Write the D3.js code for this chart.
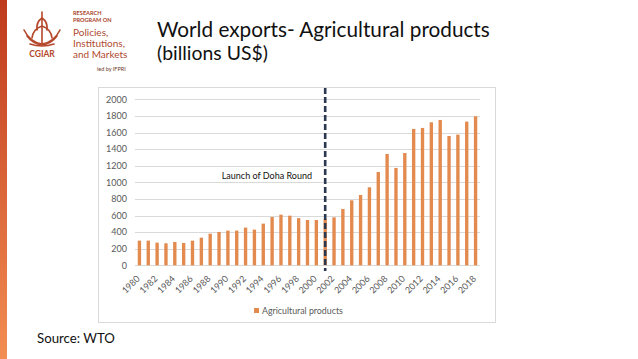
<!DOCTYPE html>
<html><head><meta charset="utf-8">
<script src="https://cdn.jsdelivr.net/npm/d3@7"></script>
<style>
html,body{margin:0;padding:0;background:#fff;}
svg text{font-family:Lato,"Open Sans",sans-serif;}
</style></head>
<body>
<svg id="c" width="638" height="359"></svg>
<script>
const years = d3.range(1980, 2019).map(String);
const agriValues = [297,297,273,265,281,269,297,333,381,402,418,418,454,430,502,582,610,598,568,546,546,555,578,679,783,847,940,1124,1341,1173,1353,1643,1655,1723,1751,1558,1574,1731,1795];
const yTicks = [0,200,400,600,800,1000,1200,1400,1600,1800,2000];
const xTickLabels = years.filter((d,i)=>i%2===0);
const seriesName = "Agricultural products";
const eventYear = "2001";
const eventLabel = "Launch of Doha Round";
const titleText = "World exports- Agricultural products";
const subtitleText = "(billions US$)";
const sourceText = "Source: WTO";

const svg = d3.select("#c");

// left gradient strip
const defs = svg.append("defs");
const g1 = defs.append("linearGradient").attr("id","strip").attr("x1",0).attr("x2",0).attr("y1",0).attr("y2",1);
g1.append("stop").attr("offset","0%").attr("stop-color","#bf3a1d");
g1.append("stop").attr("offset","100%").attr("stop-color","#f38d52");
svg.append("rect").attr("x",0).attr("y",0).attr("width",7).attr("height",359).attr("fill","url(#strip)");

// logo
const logo = svg.append("g").attr("fill","none").attr("stroke","#b4472b").attr("stroke-width",1.6).attr("stroke-linecap","round");
logo.append("path").attr("d","M42,12 L42,44");
logo.append("path").attr("d","M42,18 q-6,4 -5,12 M42,18 q6,4 5,12");
logo.append("path").attr("d","M42,26 q-9,3 -10,12 M42,26 q9,3 10,12");
logo.append("path").attr("d","M24,30 q6,12 18,14 q12,-2 18,-14");
logo.append("path").attr("d","M27,36 q6,8 15,9 q9,-1 15,-9");
logo.append("path").attr("d","M30,44 q12,4 24,0");
svg.append("text").attr("x",42).attr("y",57).attr("text-anchor","middle").attr("font-size",8.5).attr("font-weight","bold").attr("fill","#b4472b").text("CGIAR");
svg.append("text").attr("x",73).attr("y",15).attr("font-size",5.6).attr("font-weight","bold").attr("fill","#a8432a").text("RESEARCH");
svg.append("text").attr("x",73).attr("y",22).attr("font-size",5.6).attr("font-weight","bold").attr("fill","#a8432a").text("PROGRAM ON");
["Policies,","Institutions,","and Markets"].forEach((t,i)=>{
  svg.append("text").attr("x",73).attr("y",36+i*11).attr("font-size",10).attr("fill","#b04a30").text(t);
});
svg.append("text").attr("x",97).attr("y",71).attr("font-size",5.5).attr("fill","#6b3a2a").text("led by IFPRI");

// title
function fitText(sel, width){
  const w = sel.node().getComputedTextLength();
  const fs = parseFloat(sel.attr("font-size"));
  sel.attr("font-size", fs*width/w);
}
const t1 = svg.append("text").attr("x",157).attr("y",37).attr("font-size",24).attr("fill","#111").text(titleText);
fitText(t1, 333);
const t2 = svg.append("text").attr("x",157).attr("y",60).attr("font-size",17).attr("fill","#111").text(subtitleText);
fitText(t2, 111);
const t3 = svg.append("text").attr("x",37).attr("y",343).attr("font-size",14).attr("fill","#111").text(sourceText);
fitText(t3, 78);

// chart box
svg.append("rect").attr("x",98.5).attr("y",87.5).attr("width",397).attr("height",235).attr("fill","#fff").attr("stroke","#d9d9d9");

const x = d3.scaleBand().domain(years).range([135,480]).paddingInner(0.62).paddingOuter(0.31);
const y = d3.scaleLinear().domain([0,2000]).range([265.3,99.3]);

// grid
svg.append("g").selectAll("line").data(yTicks).join("line")
  .attr("x1",135).attr("x2",480).attr("y1",d=>Math.round(y(d))+0.5).attr("y2",d=>Math.round(y(d))+0.5)
  .attr("stroke","#d9d9d9").attr("stroke-width",1);

// y axis labels
const yAxis = d3.axisLeft(y).tickValues(yTicks).tickFormat(d3.format("d")).tickSize(0).tickPadding(8);
const ya = svg.append("g").attr("transform","translate(135,0)").call(yAxis);
ya.select(".domain").remove();
ya.selectAll("text").attr("font-size",9).attr("fill","#595959").attr("font-family","Lato,sans-serif");

// bars
svg.append("g").selectAll("rect").data(years).join("rect")
  .attr("x",d=>x(d)).attr("width",x.bandwidth())
  .attr("y",(d,i)=>y(agriValues[i])).attr("height",(d,i)=>y(0)-y(agriValues[i]))
  .attr("fill","#e38a4f");

// x axis labels
const xAxis = d3.axisBottom(x).tickValues(xTickLabels).tickSize(0).tickPadding(0);
const xa = svg.append("g").attr("transform","translate(0,265.3)").call(xAxis);
xa.select(".domain").remove();
xa.selectAll("text").attr("font-size",9).attr("fill","#595959").attr("font-family","Lato,sans-serif")
  .attr("text-anchor","end").attr("dy",null).attr("y",null)
  .attr("transform","translate(1,14) rotate(-45)");

// event dashed line
const ex = x(eventYear) + x.bandwidth()/2;
svg.append("line").attr("x1",ex).attr("x2",ex).attr("y1",88).attr("y2",271)
  .attr("stroke","#2a3850").attr("stroke-width",2.6).attr("stroke-dasharray","6,3");
svg.append("text").attr("x",312).attr("y",179).attr("text-anchor","end").attr("font-size",9).attr("fill","#111").text(eventLabel);

// legend
svg.append("rect").attr("x",254).attr("y",308).attr("width",5).attr("height",5).attr("fill","#e38a4f");
svg.append("text").attr("x",262).attr("y",313.5).attr("font-size",8.8).attr("fill","#595959").text(seriesName);
</script>
</body></html>
